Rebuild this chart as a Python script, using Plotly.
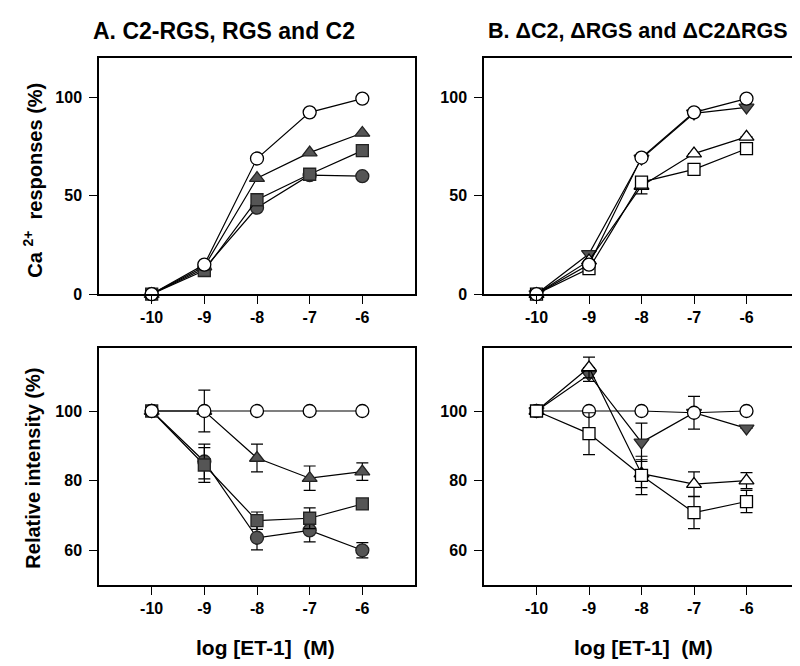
import plotly.graph_objects as go

# ---- data ----
x_log = [-10, -9, -8, -7, -6]
x_ticks = [-10, -9, -8, -7, -6]
x_tick_text = ["-10", "-9", "-8", "-7", "-6"]
y_ticks_ca = [0, 50, 100]
y_ticks_ri = [60, 80, 100]

# Panel A, Ca2+ responses (%)
a_ctrl_ca = [0, 15, 69, 92.5, 99.5]
a_tri_ca = [0, 14, 59, 72, 82]
a_sq_ca = [0, 12, 48, 61, 73]
a_circ_ca = [0, 13, 44, 60.5, 60]

# Panel B, Ca2+ responses (%)
b_ctrl_ca = [0, 15, 69.5, 92.5, 99.5]
b_inv_ca = [0, 20.5, 69, 92, 95]
b_tri_ca = [0, 17, 55, 71.5, 80]
b_tri_ca_err = [0, 0, 4, 0, 0]
b_sq_ca = [0, 13, 57, 63.5, 74]
b_sq_ca_err = [0, 0, 2, 0, 0]

# Panel A, relative intensity (%)
a_ctrl_ri = [100, 100, 100, 100, 100]
a_ctrl_ri_err = [0, 6, 0, 0, 0]
a_tri_ri = [100, 100, 86.5, 80.7, 82.6]
a_tri_ri_err = [0, 0, 4, 3.5, 2.5]
a_sq_ri = [100, 84.5, 68.5, 69.2, 73.3]
a_sq_ri_err = [0, 5, 2.5, 3, 0]
a_circ_ri = [100, 85.5, 63.6, 65.7, 60]
a_circ_ri_err = [0, 5, 3.5, 3.3, 2.2]

# Panel B, relative intensity (%)
b_ctrl_ri = [100, 100, 100, 99.5, 100]
b_ctrl_ri_err = [0, 0, 0, 4.7, 0]
b_inv_ri = [100, 110.5, 91, 99.5, 95]
b_inv_ri_err = [0, 2, 5.5, 0, 0]
b_tri_ri = [100, 112.5, 82, 79, 80]
b_tri_ri_err = [0, 3, 4, 3.5, 2.3]
b_sq_ri = [100, 93.5, 81.5, 70.8, 74]
b_sq_ri_err = [0, 6, 5.5, 4.6, 3.2]

GRAY = "#555555"
FONT = "Liberation Sans"

fig = go.Figure()


def add(xa, ya, yvals, symbol, filled, size=13, err=None):
    marker = dict(
        symbol=symbol,
        size=size,
        color=GRAY if filled else "white",
        line=dict(color="#222222" if filled else "black", width=1.3),
    )
    kw = {}
    if err is not None:
        kw["error_y"] = dict(type="data", array=err, symmetric=True,
                             color="black", thickness=1.2, width=6)
    fig.add_trace(go.Scatter(
        x=x_log, y=yvals, mode="lines+markers", xaxis=xa, yaxis=ya,
        line=dict(color="black", width=1.2), marker=marker,
        showlegend=False, cliponaxis=False, **kw))


# Panel A top (x, y)
add("x", "y", a_circ_ca, "circle", True)
add("x", "y", a_sq_ca, "square", True, 12)
add("x", "y", a_tri_ca, "triangle-up", True, 13)
add("x", "y", a_ctrl_ca, "circle", False)

# Panel B top (x2, y2)
add("x2", "y2", b_inv_ca, "triangle-down", True, 13)
add("x2", "y2", b_tri_ca, "triangle-up", False, 13, b_tri_ca_err)
add("x2", "y2", b_sq_ca, "square", False, 12, b_sq_ca_err)
add("x2", "y2", b_ctrl_ca, "circle", False)

# Panel A bottom (x3, y3)
add("x3", "y3", a_circ_ri, "circle", True, 13, a_circ_ri_err)
add("x3", "y3", a_sq_ri, "square", True, 12, a_sq_ri_err)
add("x3", "y3", a_tri_ri, "triangle-up", True, 13, a_tri_ri_err)
add("x3", "y3", a_ctrl_ri, "circle", False, 13, a_ctrl_ri_err)

# Panel B bottom (x4, y4)
add("x4", "y4", b_inv_ri, "triangle-down", True, 13, b_inv_ri_err)
add("x4", "y4", b_tri_ri, "triangle-up", False, 13, b_tri_ri_err)
add("x4", "y4", b_ctrl_ri, "circle", False, 13, b_ctrl_ri_err)
add("x4", "y4", b_sq_ri, "square", False, 12, b_sq_ri_err)

W, H = 800, 666
xA = [91 / W, 407 / W]
xB = [476 / W, 791 / W]
yTop = [1 - 290 / H, 1 - 51 / H]
yBot = [1 - 585 / H, 1 - 345 / H]

tickfont = dict(family=FONT, size=16, color="black", weight="bold")
common_x = dict(range=[-11, -5], tickvals=x_ticks, ticktext=x_tick_text,
                showline=True, mirror=True, linecolor="black", linewidth=1.5,
                ticks="outside", ticklen=8, tickwidth=1.3, tickcolor="black",
                showgrid=False, zeroline=False, tickfont=tickfont)
common_y = dict(showline=True, mirror=True, linecolor="black", linewidth=1.5,
                ticks="outside", ticklen=8, tickwidth=1.3, tickcolor="black",
                showgrid=False, zeroline=False, tickfont=tickfont,
                ticklabelstandoff=4)

fig.update_layout(
    width=W, height=H,
    margin=dict(l=0, r=0, t=0, b=0),
    paper_bgcolor="white", plot_bgcolor="white",
    xaxis=dict(domain=xA, anchor="y", **common_x),
    yaxis=dict(domain=yTop, anchor="x", range=[0, 120], tickvals=y_ticks_ca, **common_y),
    xaxis2=dict(domain=xB, anchor="y2", **common_x),
    yaxis2=dict(domain=yTop, anchor="x2", range=[0, 120], tickvals=y_ticks_ca, **common_y),
    xaxis3=dict(domain=xA, anchor="y3", **common_x),
    yaxis3=dict(domain=yBot, anchor="x3", range=[50, 118], tickvals=y_ticks_ri, **common_y),
    xaxis4=dict(domain=xB, anchor="y4", **common_x),
    yaxis4=dict(domain=yBot, anchor="x4", range=[50, 118], tickvals=y_ticks_ri, **common_y),
)

def ann(text, px, py, size, angle=0, weight="bold"):
    fig.add_annotation(text=text, x=px / W, y=1 - py / H, xref="paper", yref="paper",
                       showarrow=False, textangle=angle, xanchor="center", yanchor="middle",
                       font=dict(family=FONT, size=size, color="black", weight=weight))

ann("A. C2-RGS, RGS and C2", 216, 23, 23)
ann("B. ΔC2, ΔRGS and ΔC2ΔRGS", 630, 23, 21.5)
ann("Ca <sup>2+</sup>  responses (%)", 25, 175, 20, -90)
ann("Relative intensity (%)", 25, 467, 20, -90)
ann("log [ET-1]  (M)", 257, 648, 21)
ann("log [ET-1]  (M)", 635, 648, 21)

fig.write_html("out.html")
